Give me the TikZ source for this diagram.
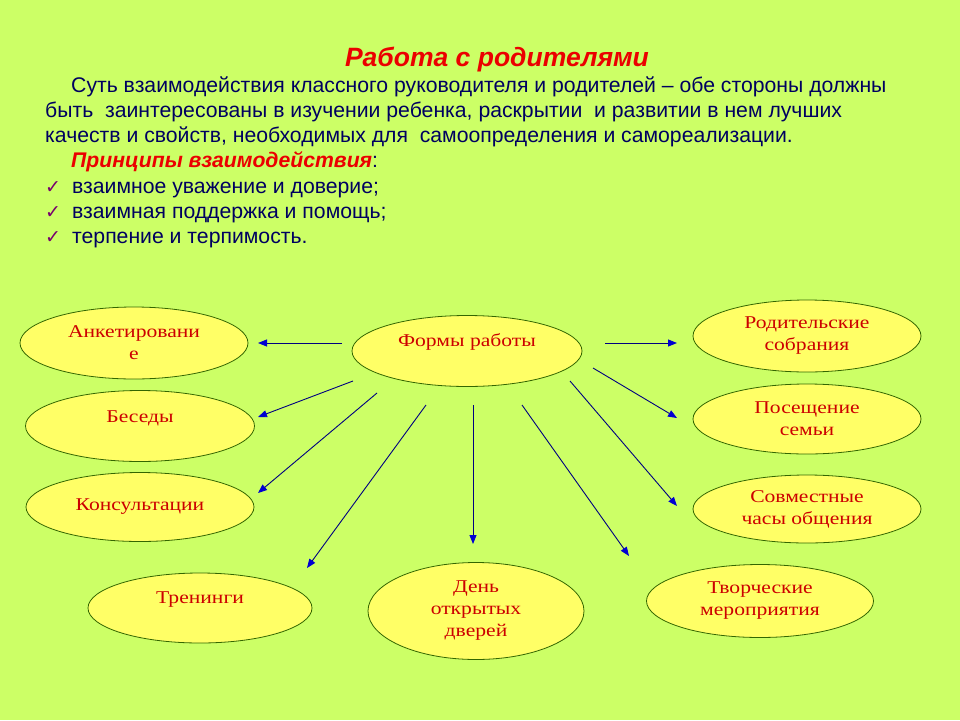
\documentclass[tikz,border=0pt]{standalone}
\usepackage{fontspec}
\setmainfont{Liberation Serif}
\newfontfamily\headfont{Liberation Sans}
\newfontfamily\ovalfont[FakeStretch=1.2]{Liberation Serif}
\newfontfamily\symfont{DejaVu Sans}
\usetikzlibrary{arrows.meta,shapes.geometric}
\definecolor{bglime}{RGB}{204,255,102}
\definecolor{ovalyellow}{RGB}{255,255,102}
\definecolor{ovalline}{RGB}{51,102,0}
\definecolor{textred}{RGB}{204,0,0}
\definecolor{titlered}{RGB}{235,0,0}
\definecolor{bodynavy}{RGB}{0,0,96}
\definecolor{arrownavy}{RGB}{0,0,128}
\definecolor{arrowblue}{RGB}{0,0,210}
\definecolor{tickpurple}{RGB}{120,0,110}
\newcommand{\lifted}[2]{\raisebox{#1}[\height][\depth]{#2}}

\begin{document}
\begin{tikzpicture}[x=1pt,y=-1pt,
    every node/.style={inner sep=0pt},
    oval/.style={ellipse,draw=ovalline,fill=ovalyellow,line width=0.8pt,align=center,
                 font=\ovalfont\fontsize{18}{22}\selectfont,text=textred},
    head/.style={anchor=base west,font=\headfont\fontsize{21.2}{25}\selectfont,text=bodynavy},
    tick/.style={anchor=base west,font=\symfont\fontsize{19}{20}\selectfont,text=tickpurple},
    link/.style={draw=arrownavy,line width=0.9pt,
                 -{Triangle[length=9pt,width=7pt,color=arrowblue]}}]
  \fill[bglime] (0,0) rectangle (960,720);

  % heading and text
  \node[anchor=base,font=\headfont\bfseries\itshape\fontsize{26.5}{30}\selectfont,text=titlered]
       (title) at (497,66) {Работа с родителями};
  \node[head] (line1) at (71,92) {Суть взаимодействия классного руководителя и родителей – обе стороны должны};
  \node[head] (line2) at (45,117) {быть\ \ заинтересованы в изучении ребенка, раскрытии\ \ и развитии в нем лучших};
  \node[head] (line3) at (45,142) {качеств и свойств, необходимых для\ \ самоопределения и самореализации.};
  \node[head] (princ) at (71,167) {\textcolor{titlered}{\bfseries\itshape Принципы взаимодействия}:};
  \node[tick] (tick1) at (45,193) {✓};
  \node[tick] (tick2) at (45,218) {✓};
  \node[tick] (tick3) at (45,243) {✓};
  \node[head] (rule1) at (72,193) {взаимное уважение и доверие;};
  \node[head] (rule2) at (72,218) {взаимная поддержка и помощь;};
  \node[head] (rule3) at (72,243) {терпение и терпимость.};

  % forms of work
  \node[oval,minimum width=230pt,minimum height=71pt] (forms) at (467,351) {\lifted{9pt}{Формы работы}};
  \node[oval,minimum width=228pt,minimum height=72pt] (ank)   at (134,343) {Анкетировани\\е};
  \node[oval,minimum width=229pt,minimum height=71pt] (bes)   at (140,426) {\lifted{8pt}{Беседы}};
  \node[oval,minimum width=228pt,minimum height=69pt] (kons)  at (140,507) {Консультации};
  \node[oval,minimum width=224pt,minimum height=70pt] (tren)  at (200,608) {\lifted{8pt}{Тренинги}};
  \node[oval,minimum width=216pt,minimum height=97pt] (day)   at (476,611) {День\\открытых\\дверей};
  \node[oval,minimum width=227pt,minimum height=73pt] (tvor)  at (760,601) {Творческие\\мероприятия};
  \node[oval,minimum width=228pt,minimum height=68pt] (sovm)  at (807,509) {Совместные\\часы общения};
  \node[oval,minimum width=228pt,minimum height=70pt] (pos)   at (807,419) {Посещение\\семьи};
  \node[oval,minimum width=228pt,minimum height=72pt] (rod)   at (807,336) {Родительские\\собрания};

  % arrows from the centre
  \foreach \sx/\sy/\ex/\ey/\n in {342/343/258/343/ank, 353/381/258/417/bes,
      377/393/258/493/kons, 426/405/307/568/tren, 473/405/473/544/day,
      522/405/629/556/tvor, 570/381/677/506/sovm, 593/368/677/418/pos,
      605/343/677/343/rod} {
    \coordinate (from-\n) at (\sx,\sy);
    \coordinate (to-\n) at (\ex,\ey);
    \draw[link] (from-\n) -- (to-\n);
  }
\end{tikzpicture}
\end{document}
